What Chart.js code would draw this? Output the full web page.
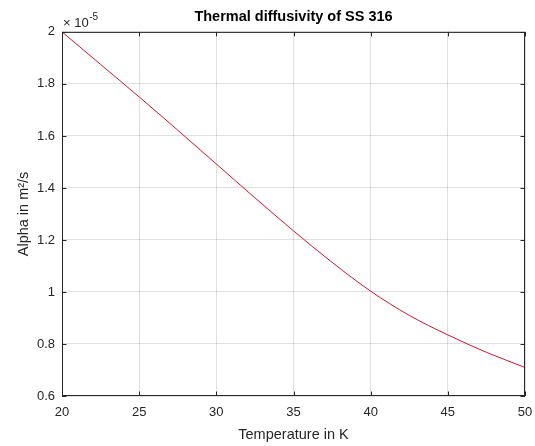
<!DOCTYPE html>
<html>
<head>
<meta charset="utf-8">
<script src="https://cdn.jsdelivr.net/npm/chart.js@4"></script>
<style>
  html, body { margin: 0; padding: 0; background: #fff; }
  #wrap { width: 535px; height: 446px; }
</style>
</head>
<body>
<div id="wrap"><canvas id="alpha_chart"></canvas></div>
<script>
const temperatures = [20, 22.5, 25, 27.5, 30, 32.5, 35, 37.5, 40, 42.5, 45, 47.5, 50];
// alpha in units of 1e-5 m^2/s (axis shows x10^-5)
const alphaE5 = [2.0, 1.875, 1.750, 1.622, 1.492, 1.362, 1.235, 1.114, 1.003, 0.910, 0.835, 0.768, 0.710];
const xTicks = [20, 25, 30, 35, 40, 45, 50];
const yTicks = [0.6, 0.8, 1, 1.2, 1.4, 1.6, 1.8, 2];

const FONT = '"Liberation Sans", Arial, sans-serif';
const AXIS_COLOR = '#262626';
const GRID_COLOR = 'rgba(38,38,38,0.15)';

// box round the axes, inward ticks and the x10^-5 multiplier, the way matlab draws it
const matlabBox = {
    id: 'matlabBox',
    afterDatasetsDraw(chart) {
        const {ctx, chartArea: a, scales: {x, y}} = chart;
        const len = 4.5;
        ctx.save();
        ctx.strokeStyle = AXIS_COLOR;
        ctx.lineWidth = 1;
        ctx.beginPath();
        x.ticks.forEach(t => {
            const px = Math.round(x.getPixelForValue(t.value)) + 0.5;
            ctx.moveTo(px, a.bottom); ctx.lineTo(px, a.bottom - len);
            ctx.moveTo(px, a.top); ctx.lineTo(px, a.top + len);
        });
        y.ticks.forEach(t => {
            const py = Math.round(y.getPixelForValue(t.value)) + 0.5;
            ctx.moveTo(a.left, py); ctx.lineTo(a.left + len, py);
            ctx.moveTo(a.right, py); ctx.lineTo(a.right - len, py);
        });
        ctx.stroke();
        ctx.strokeRect(a.left + 0.5, a.top + 0.5, a.right - a.left - 1, a.bottom - a.top - 1);

        ctx.fillStyle = AXIS_COLOR;
        ctx.textBaseline = 'alphabetic';
        ctx.font = '13px ' + FONT;
        ctx.fillText('\u00d7 10', a.left + 1, a.top - 4.5);
        const w = ctx.measureText('\u00d7 10').width;
        ctx.font = '10px ' + FONT;
        ctx.fillText('-5', a.left + 1 + w + 0.5, a.top - 11.5);
        ctx.restore();
    }
};

new Chart(document.getElementById('alpha_chart'), {
    type: 'line',
    data: {
        datasets: [{
            label: 'Alpha',
            data: temperatures.map((t, i) => ({x: t, y: alphaE5[i]})),
            borderColor: 'rgb(210,20,40)',
            borderWidth: 1,
            pointRadius: 0,
            cubicInterpolationMode: 'monotone',
            fill: false
        }]
    },
    plugins: [matlabBox],
    options: {
        responsive: true,
        maintainAspectRatio: false,
        animation: false,
        layout: {padding: {left: 0, right: 10, top: 0, bottom: 0}},
        plugins: {
            legend: {display: false},
            tooltip: {enabled: false},
            title: {
                display: true,
                text: 'Thermal diffusivity of SS 316',
                fullSize: false,
                color: '#000',
                font: {family: FONT, size: 14.5, weight: 'bold'},
                padding: {top: 8.5, bottom: 6}
            }
        },
        scales: {
            x: {
                type: 'linear',
                min: 20,
                max: 50,
                afterBuildTicks: s => { s.ticks = xTicks.map(v => ({value: v})); },
                afterFit: s => { s.height = 50; s.paddingRight = 0; s.paddingLeft = 0; },
                grid: {color: GRID_COLOR, drawTicks: false},
                border: {display: false},
                ticks: {color: AXIS_COLOR, font: {family: FONT, size: 13}, padding: 9, maxRotation: 0},
                title: {
                    display: true,
                    text: 'Temperature in K',
                    color: AXIS_COLOR,
                    font: {family: FONT, size: 14.5},
                    padding: {top: 0, bottom: 2}
                }
            },
            y: {
                type: 'linear',
                min: 0.6,
                max: 2,
                afterBuildTicks: s => { s.ticks = yTicks.map(v => ({value: v})); },
                afterFit: s => { s.width = 62; },
                grid: {color: GRID_COLOR, drawTicks: false},
                border: {display: false},
                ticks: {color: AXIS_COLOR, font: {family: FONT, size: 13}, padding: 7,
                    callback: v => String(v)},
                title: {
                    display: true,
                    text: 'Alpha in m\u00b2/s',
                    color: AXIS_COLOR,
                    font: {family: FONT, size: 14.5},
                    padding: {top: 15, bottom: 0}
                }
            }
        }
    }
});
</script>
</body>
</html>
